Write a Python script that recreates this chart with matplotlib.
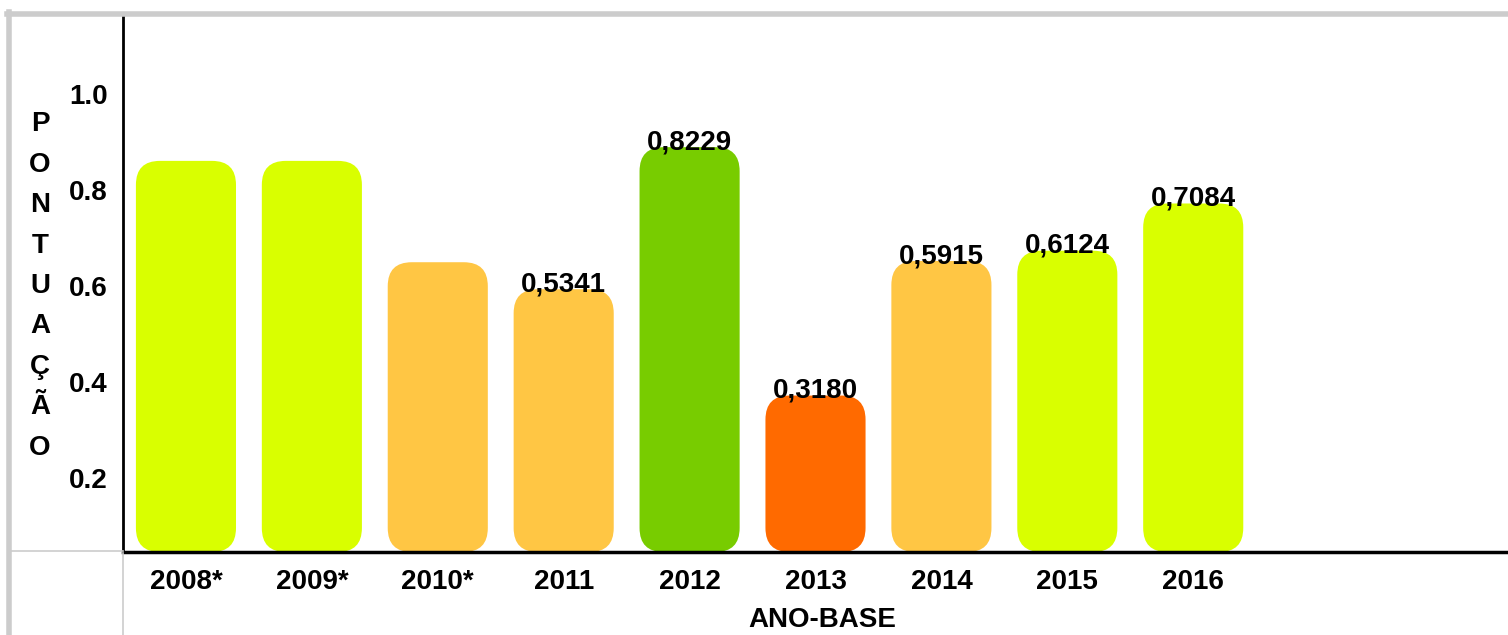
import matplotlib
matplotlib.use("Agg")
import matplotlib.pyplot as plt
from matplotlib.patches import FancyBboxPatch
from matplotlib.lines import Line2D

plt.rcParams['font.family'] = ['Liberation Sans', 'DejaVu Sans']
plt.rcParams['font.weight'] = 'bold'

years = ["2008*", "2009*", "2010*", "2011", "2012", "2013", "2014", "2015", "2016"]
values = [0.795, 0.795, 0.589, 0.5341, 0.8229, 0.3180, 0.5915, 0.6124, 0.7084]
value_labels = ["", "", "", "0,5341", "0,8229", "0,3180", "0,5915", "0,6124", "0,7084"]
colors = ["#d9ff00", "#d9ff00", "#ffc644", "#ffc644", "#78cc00",
          "#ff6a00", "#ffc644", "#d9ff00", "#d9ff00"]
ytick_vals = [0.2, 0.4, 0.6, 0.8, 1.0]
ytick_labels = ["0.2", "0.4", "0.6", "0.8", "1.0"]
ylabel_text = "PONTUAÇÃO"
xlabel_text = "ANO-BASE"

W, H = 1508, 635
fig = plt.figure(figsize=(W / 100, H / 100), dpi=100)
fs = 20

left, right, bottom, top = 123 / W, 1.0, (H - 552) / H, (H - 15) / H
ax = fig.add_axes([left, bottom, right - left, top - bottom])
ax.set_xlim(-0.5, 10.5)
ax.set_ylim(0, 1.0915)

bars = ax.bar(range(len(years)), values, width=0.795, color=colors)
# pixel scales for rounded corners
px_x = (W * (right - left)) / 11.0
px_y = (H * (top - bottom)) / 1.0915
r_px = 24
rs = r_px / px_x
asp = (r_px / px_y) / rs
for b, c in zip(bars, colors):
    b.set_visible(False)
    p = FancyBboxPatch((b.get_x(), b.get_y()), b.get_width(), b.get_height(),
                       boxstyle=f"round,pad=0,rounding_size={rs}",
                       mutation_aspect=asp, facecolor=c, edgecolor='none')
    ax.add_patch(p)

for i, (v, lab) in enumerate(zip(values, value_labels)):
    if lab:
        ax.annotate(lab, (i, v), xytext=(0, -1.5), textcoords='offset points',
                    ha='center', va='baseline', fontsize=fs, fontweight='bold')

ax.set_xticks(range(len(years)))
ax.set_xticklabels(years, fontsize=fs, fontweight='bold')
ax.tick_params(axis='x', length=0, pad=12)
ax.set_yticks([])
for s in ['top', 'right']:
    ax.spines[s].set_visible(False)
ax.spines['left'].set_linewidth(2)
ax.spines['bottom'].set_linewidth(2.5)
ax.set_facecolor('none')

# secondary axis holding the tick scale
ax2 = fig.add_axes([left, bottom, right - left, top - bottom])
ax2.set_ylim(0.046, 1.165)
ax2.set_yticks(ytick_vals)
ax2.set_yticklabels(ytick_labels, fontsize=fs, fontweight='bold')
ax2.tick_params(axis='y', length=0, pad=11)
ax2.set_xticks([])
ax2.patch.set_visible(False)
for s in ax2.spines.values():
    s.set_visible(False)

# labels
fig.text(40 / W, (H - 286) / H, "\n".join(ylabel_text), ha='center', va='center',
         fontsize=fs, fontweight='bold', linespacing=1.72)
fig.text(822 / W, (H - 620) / H, xlabel_text, ha='center', va='center',
         fontsize=fs, fontweight='bold')

# frame decorations
gray = '#cccccc'
fig.add_artist(Line2D([9 / W, 9 / W], [0, (H - 12) / H], color=gray, lw=4, transform=fig.transFigure))
fig.add_artist(Line2D([7 / W, 1], [(H - 14) / H, (H - 14) / H], color=gray, lw=4, transform=fig.transFigure))
fig.add_artist(Line2D([9 / W, 123 / W], [(H - 551) / H, (H - 551) / H], color=gray, lw=1.2, transform=fig.transFigure))
fig.add_artist(Line2D([123 / W, 123 / W], [0, (H - 553) / H], color=gray, lw=1.2, transform=fig.transFigure))

fig.savefig("out.png", dpi=100)
